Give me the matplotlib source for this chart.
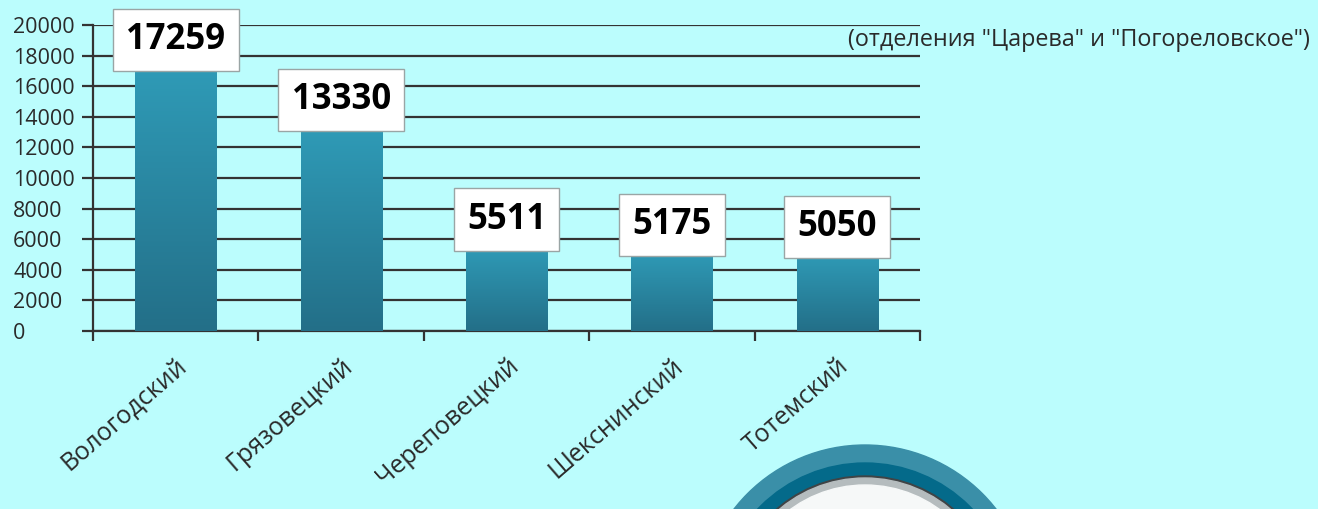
import numpy as np
import matplotlib
matplotlib.use("Agg")
import matplotlib.pyplot as plt
from matplotlib.patches import Circle

districts = ["Вологодский", "Грязовецкий", "Череповецкий", "Шекснинский", "Тотемский"]
values = [17259, 13330, 5511, 5175, 5050]
yticks = [0, 2000, 4000, 6000, 8000, 10000, 12000, 14000, 16000, 18000, 20000]
note = '(отделения "Царева" и "Погореловское")'

bg = "#bbfdfd"
plt.rcParams["font.family"] = ["Open Sans", "DejaVu Sans"]

fig = plt.figure(figsize=(13.18, 5.09), dpi=100, facecolor=bg)
ax = fig.add_axes([0.0706, 0.3497, 0.6275, 0.6013])
ax.set_facecolor(bg)

x = np.arange(len(districts))
bars = ax.bar(x, values, width=0.49, color="#2a88a3", zorder=3)

# vertical gradient inside each bar
grad = np.linspace(0, 1, 256).reshape(-1, 1)
cmap = matplotlib.colors.LinearSegmentedColormap.from_list("bar", ["#236f88", "#2f9bb7"])
for b in bars:
    im = ax.imshow(grad, extent=[b.get_x(), b.get_x() + b.get_width(), 0, b.get_height()],
                   origin="lower", aspect="auto", cmap=cmap, zorder=3)
    im.set_clip_path(b)

ax.set_xlim(-0.5, len(districts) - 0.5)
ax.set_ylim(0, 20000)
ax.set_yticks(yticks)
ax.set_yticklabels([str(t) for t in yticks], fontsize=15.5, color="#2a2a2a", ha="left")
ax.yaxis.grid(True, color="#333333", linewidth=1.6, zorder=1)
ax.tick_params(axis="y", length=8, width=1.6, color="#333333", pad=49.5)

ax.set_xticks(np.arange(len(districts) + 1) - 0.5)
ax.set_xticklabels([])
ax.set_xticks(x, minor=True)
ax.set_xticklabels(districts, minor=True, rotation=41, ha="right", va="top",
                   rotation_mode="anchor", fontsize=18, color="#2a2a2a")
ax.tick_params(axis="x", which="major", length=7.2, width=1.6, color="#333333")
ax.tick_params(axis="x", which="minor", length=0, pad=16)

for s in ["top", "right"]:
    ax.spines[s].set_visible(False)
for s in ["left", "bottom"]:
    ax.spines[s].set_color("#333333")
    ax.spines[s].set_linewidth(1.6)
ax.set_axisbelow(True)

for xi, v in zip(x, values):
    ax.annotate(str(v), (xi, v), xytext=(0, 27), textcoords="offset pixels",
                ha="center", va="center", fontsize=25, fontweight="bold", color="black", zorder=5,
                bbox=dict(boxstyle="square,pad=0.38", facecolor="white", edgecolor="#9aa5a5", linewidth=1))

fig.text(0.6434, 0.921, note, fontsize=16.8, color="#2a2a2a", ha="left", va="center")

# decorative button at the bottom
oax = fig.add_axes([0, 0, 1, 1], zorder=2)
oax.set_xlim(0, 1318)
oax.set_ylim(509, 0)
oax.axis("off")
cx, cy = 865, 611
oax.add_patch(Circle((cx, cy), 166, color="#3a8fa8"))
oax.add_patch(Circle((cx, cy), 148, color="#046a8a"))
oax.add_patch(Circle((cx, cy), 135, color="#404446"))
oax.add_patch(Circle((cx, cy), 133, color="#b5bcbe"))
oax.add_patch(Circle((cx, cy), 126, color="#f6f8f8"))

fig.savefig("out.png", dpi=100, facecolor=bg)
